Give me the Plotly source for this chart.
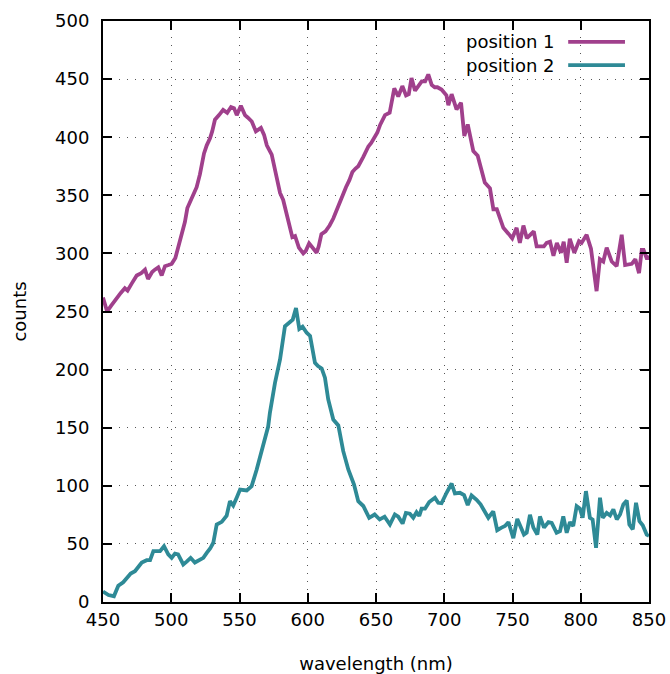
import plotly.graph_objects as go

# position 1 (wavelength nm, counts)
wl1 = [450, 453, 456, 460, 463, 466, 468, 471, 474.7, 478, 480.8, 483, 486, 488, 490.5, 493, 495.4, 498,
       500.3, 503, 505, 507.6, 510, 511.8, 514, 516, 518.6, 521, 524, 526, 528.4, 530, 532, 535, 538, 541,
       543.8, 546, 548, 551, 554, 556, 559, 562, 565.7, 568, 570, 573.6, 576, 579.7, 582, 585.7, 588.7,
       590.7, 593.5, 596.7, 598.5, 601, 603.5, 606.5, 608, 610, 613, 616, 618.7, 622, 625, 628, 630.5,
       632.7, 635, 637, 640.7, 644.4, 646.5, 648.8, 651, 653, 656.6, 660, 663.4, 666.3, 669.3, 672, 674,
       676, 678.6, 681, 683.5, 686, 688.3, 690.8, 693, 695, 698, 701.6, 703, 705.4, 709, 712.3, 714.7,
       717.2, 721.3, 724.5, 727, 729.7, 733.5, 736, 738.5, 741, 743.3, 747, 749.8, 753, 755.4, 758, 760.5,
       763, 765.6, 767.7, 770, 773, 775, 777.5, 780, 782.5, 785.5, 787.5, 789.7, 792, 795.3, 798.7, 800.6,
       804.3, 807.5, 811.6, 814, 816.5, 819, 822.7, 826.3, 830, 832.5, 837.4, 840, 842.7, 844.7, 846,
       848.6, 850]
counts1 = [262, 250, 255, 262, 266, 270, 268, 274, 281, 283, 286, 278, 284, 286, 288, 281, 289, 290,
           291, 296, 305, 318, 327, 339, 345, 350, 357, 368, 386, 393, 399, 405, 415, 419, 423.5, 421,
           426, 425, 419, 427, 419, 417, 413.5, 405, 408, 402, 393, 385, 372, 352, 346, 330, 314,
           315, 305, 300, 302, 308.6, 305, 300.6, 306, 316.6, 319, 324, 330, 340, 350, 357, 363,
           370, 373, 375, 383, 392, 395, 399, 404, 410.6, 419, 421, 442, 435, 444, 436, 437,
           451, 440, 444, 448, 448, 454, 445, 443, 443, 441, 436, 427.5, 437, 424, 429.6, 401,
           411, 388, 384, 374, 361, 356, 338, 338, 330, 322, 317, 313, 322, 309, 324, 313,
           316, 319, 306, 306, 306, 309, 310, 298, 309, 300.5, 310, 292, 312.6, 300.5, 310.5, 309,
           316, 304, 267.5, 295, 293, 305, 293, 289, 316, 290, 291, 295, 283, 303, 303,
           295, 298]

# position 2 (wavelength nm, counts)
wl2 = [450, 454, 458, 461.2, 464.8, 467, 470.3, 473.4, 476, 478.4, 482, 484.5, 486.9, 491.8, 494.7, 497.8,
       500.3, 502.7, 505, 508.8, 511.5, 514.2, 517.3, 521, 523.5, 526, 528.5, 530.8, 533.3, 537, 540.6,
       543, 545.4, 548, 550.4, 555.3, 558.9, 562.6, 565, 567.4, 571, 572.3, 576, 579.7, 583.3, 587, 589,
       591.4, 593.8, 596.2, 599.2, 601.7, 605.3, 607.5, 610.2, 612.6, 615, 618.7, 622.4, 626, 629.7,
       633.9, 637, 640.7, 645, 649, 652.7, 656.3, 660.2, 663.8, 666.3, 669.5, 671.9, 674.8, 677.3,
       679.7, 681.7, 683.4, 685.9, 689, 691, 693.2, 695.6, 698, 701.7, 705.4, 707.8, 711.5, 714.5,
       717.2, 720, 723.7, 726.6, 729.1, 732.3, 735.9, 738.8, 742, 744.5, 747, 750.6, 753.5, 755.9,
       758.4, 760.4, 762.8, 765.3, 768.2, 770.1, 773.1, 776.3, 778.7, 782.3, 784.8, 787.2, 789.7,
       792.1, 794.5, 797, 799.4, 801.4, 803.8, 806.7, 808.7, 811.2, 814.1, 816.1, 819, 821.5, 823.9,
       826.4, 828.8, 831.2, 833.7, 835.6, 838.1, 840.5, 843, 845.4, 848.3, 850]
counts2 = [9, 6, 5, 14, 17, 20, 24.5, 26.5, 30, 34, 36, 36, 43.7, 43.7, 48, 41,
           38, 41.7, 41, 32.3, 35, 38, 34, 36, 38, 42.3, 46, 51, 66.7, 69, 74.4,
           86.7, 83, 90, 96.8, 96, 99.7, 114, 125, 137, 151, 163, 188.6, 208.7, 237.3, 241, 243,
           253, 235, 237, 231.7, 229, 205.8, 203, 201, 193, 174.3, 157, 152, 129.8, 114,
           101, 86.7, 82.6, 72.5, 75.3, 71, 73.4, 66.7, 75.3, 73.4, 67.5, 76.7, 76, 72.5,
           77.3, 74, 80.3, 80.3, 86, 88, 89.7, 85.4, 85, 94, 102, 93.4, 94, 92,
           83.5, 91.7, 88, 84, 79, 72.5, 78, 61.8, 64, 65.4, 68.7, 55, 71.5, 65.4,
           58, 59.6, 75, 64, 58, 73.6, 64, 68.7, 68, 59.6, 61, 73.6, 59.6,
           68.7, 65.4, 82.5, 80.3, 72.5, 95.4, 72.5, 71, 46.6, 89.7, 72.5, 76.7, 74.5, 79.7,
           71, 75.3, 84, 87.3, 66.7, 62.5, 85.4, 69.6, 66, 58, 57]

names = ["position 1", "position 2"]
colors = ["#A0408C", "#2E8A96"]
x_ticks = [450, 500, 550, 600, 650, 700, 750, 800, 850]
y_ticks = [0, 50, 100, 150, 200, 250, 300, 350, 400, 450, 500]

FONT = "DejaVu Sans"
fig = go.Figure()
for wl, c, nm, col in [(wl1, counts1, names[0], colors[0]), (wl2, counts2, names[1], colors[1])]:
    fig.add_trace(go.Scatter(x=wl, y=c, mode="lines", name=nm,
                             line=dict(color=col, width=3.8), showlegend=False))

axis_common = dict(showline=True, linecolor="black", linewidth=2, mirror="ticks",
                   ticks="inside", ticklen=9, tickwidth=2, tickcolor="black",
                   showgrid=True, gridcolor="#555555", gridwidth=1, griddash="1px,7px",
                   zeroline=False, automargin=False,
                   tickfont=dict(family=FONT, size=18, color="black"))

fig.update_xaxes(range=[450, 850], tickvals=x_ticks, ticktext=[str(v) for v in x_ticks],
                 title=dict(text="wavelength (nm)", font=dict(family=FONT, size=18, color="black"), standoff=29),
                 **axis_common)
fig.update_yaxes(range=[0, 500], tickvals=y_ticks, ticktext=[str(v) for v in y_ticks],
                 ticklabelstandoff=8,
                 title=dict(text="counts", font=dict(family=FONT, size=18, color="black"), standoff=24),
                 **axis_common)

# gnuplot-style legend: text right-aligned, line sample to the right
leg_y = [0.964, 0.924]
for nm, col, yy in zip(names, colors, leg_y):
    fig.add_annotation(x=0.83, y=yy, xref="paper", yref="paper", text=nm, showarrow=False,
                       xanchor="right", yanchor="middle",
                       font=dict(family=FONT, size=18, color="black"))
    fig.add_shape(type="line", xref="paper", yref="paper", x0=0.852, x1=0.956, y0=yy, y1=yy,
                  line=dict(color=col, width=3.8))

fig.update_layout(width=670, height=674, margin=dict(l=103, r=21, t=21, b=72),
                  plot_bgcolor="white", paper_bgcolor="white",
                  font=dict(family=FONT, size=18, color="black"))
fig.write_html("out.html")
